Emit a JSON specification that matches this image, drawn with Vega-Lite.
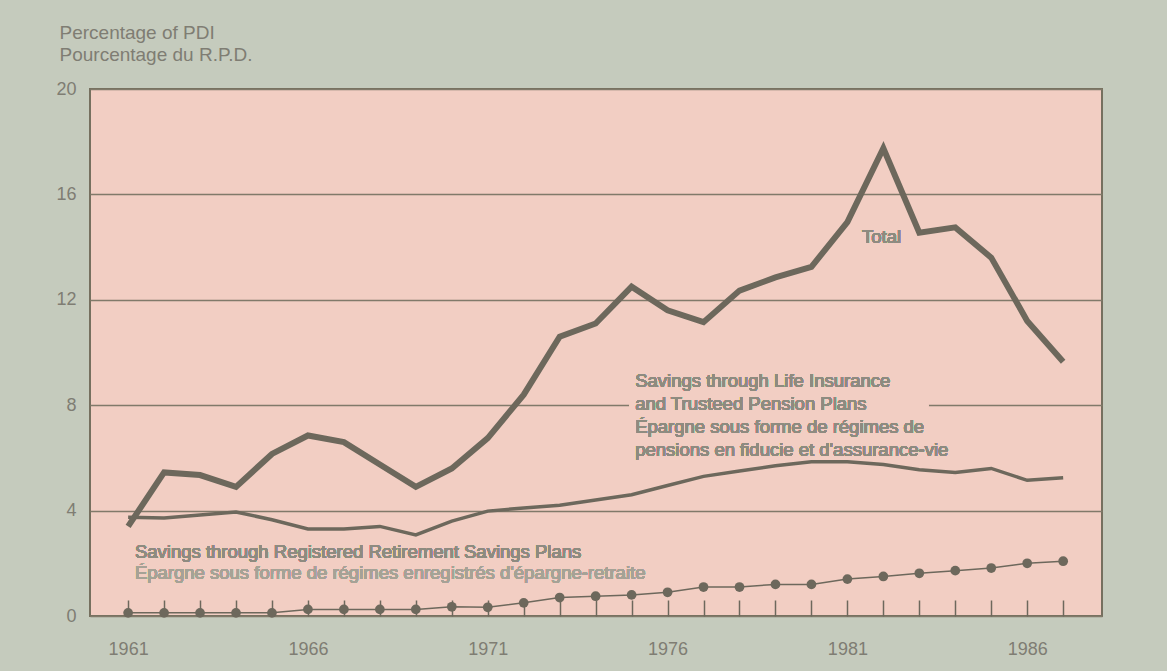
{
  "$schema": "https://vega.github.io/schema/vega-lite/v6.json",
  "width": 1012,
  "height": 527,
  "autosize": {"type": "none"},
  "padding": {"left": 90, "top": 89, "right": 65, "bottom": 55},
  "background": "#c5cbbd",
  "config": {
    "view": {"stroke": "#76705f", "strokeWidth": 2, "fill": "#f2cec3"},
    "font": "Liberation Sans",
    "axis": {"labelFont": "Liberation Sans", "titleFont": "Liberation Sans", "labelColor": "#7f7d73", "titleColor": "#7f7d73", "titleFontWeight": "normal"}
  },
  "data": {
    "values": [
      {"year": 1961, "total": 3.4, "life": 3.75, "rrsp": 0.12},
      {"year": 1962, "total": 5.45, "life": 3.72, "rrsp": 0.12},
      {"year": 1963, "total": 5.35, "life": 3.83, "rrsp": 0.12},
      {"year": 1964, "total": 4.9, "life": 3.95, "rrsp": 0.12},
      {"year": 1965, "total": 6.15, "life": 3.65, "rrsp": 0.12},
      {"year": 1966, "total": 6.85, "life": 3.3, "rrsp": 0.25},
      {"year": 1967, "total": 6.6, "life": 3.3, "rrsp": 0.25},
      {"year": 1968, "total": 5.75, "life": 3.4, "rrsp": 0.25},
      {"year": 1969, "total": 4.9, "life": 3.08, "rrsp": 0.25},
      {"year": 1970, "total": 5.6, "life": 3.6, "rrsp": 0.35},
      {"year": 1971, "total": 6.75, "life": 3.98, "rrsp": 0.33},
      {"year": 1972, "total": 8.4, "life": 4.1, "rrsp": 0.5},
      {"year": 1973, "total": 10.6, "life": 4.2, "rrsp": 0.7},
      {"year": 1974, "total": 11.1, "life": 4.4, "rrsp": 0.75},
      {"year": 1975, "total": 12.5, "life": 4.6, "rrsp": 0.8},
      {"year": 1976, "total": 11.6, "life": 4.95, "rrsp": 0.9},
      {"year": 1977, "total": 11.15, "life": 5.3, "rrsp": 1.1},
      {"year": 1978, "total": 12.35, "life": 5.5, "rrsp": 1.1},
      {"year": 1979, "total": 12.85, "life": 5.7, "rrsp": 1.2},
      {"year": 1980, "total": 13.25, "life": 5.85, "rrsp": 1.2},
      {"year": 1981, "total": 14.95, "life": 5.85, "rrsp": 1.4},
      {"year": 1982, "total": 17.75, "life": 5.75, "rrsp": 1.5},
      {"year": 1983, "total": 14.55, "life": 5.55, "rrsp": 1.62},
      {"year": 1984, "total": 14.75, "life": 5.45, "rrsp": 1.72},
      {"year": 1985, "total": 13.6, "life": 5.6, "rrsp": 1.82},
      {"year": 1986, "total": 11.2, "life": 5.15, "rrsp": 2.0},
      {"year": 1987, "total": 9.65, "life": 5.25, "rrsp": 2.08}
    ]
  },
  "encoding": {
    "x": {
      "field": "year", "type": "quantitative",
      "scale": {"domain": [1959.94, 1988.08], "nice": false, "zero": false},
      "axis": {
        "title": null,
        "values": [1961,1962,1963,1964,1965,1966,1967,1968,1969,1970,1971,1972,1973,1974,1975,1976,1977,1978,1979,1980,1981,1982,1983,1984,1985,1986,1987],
        "labelExpr": "(datum.value - 1961) % 5 == 0 ? datum.value : ''",
        "labelOverlap": false,
        "labelFlush": false,
        "labelFontSize": 18,
        "labelPadding": 40,
        "tickSize": -16,
        "tickColor": "#6d685c",
        "tickWidth": 1.5,
        "domain": false,
        "grid": false
      }
    }
  },
  "layer": [
    {
      "mark": {"type": "rect", "fill": "#f2cec3"},
      "encoding": {
        "x": {"datum": 1974.95, "type": "quantitative"},
        "x2": {"datum": 1983.25},
        "y": {"datum": 7.82, "type": "quantitative"},
        "y2": {"datum": 8.18}
      }
    },
    {
      "mark": {"type": "line", "color": "#6d685c", "strokeWidth": 3.5},
      "encoding": {
        "y": {
          "field": "life", "type": "quantitative",
          "scale": {"domain": [0, 20], "nice": false},
          "axis": {
            "title": ["Percentage of PDI", "Pourcentage du R.P.D."],
            "titleAngle": 0,
            "titleAlign": "left",
            "titleBaseline": "alphabetic",
            "titleX": -31,
            "titleY": -51,
            "titleFontSize": 19,
            "titleLineHeight": 22,
            "values": [0, 4, 8, 12, 16, 20],
            "labelFontSize": 18,
            "labelPadding": 14,
            "ticks": false,
            "domain": false,
            "grid": true,
            "gridColor": "#817a6a",
            "gridWidth": 1.5
          }
        }
      }
    },
    {
      "mark": {"type": "line", "color": "#6d685c", "strokeWidth": 6, "strokeJoin": "miter"},
      "encoding": {"y": {"field": "total", "type": "quantitative"}}
    },
    {
      "mark": {"type": "line", "color": "#6d685c", "strokeWidth": 1.5},
      "encoding": {"y": {"field": "rrsp", "type": "quantitative"}}
    },
    {
      "mark": {"type": "point", "filled": true, "color": "#6d685c", "size": 95, "opacity": 1},
      "encoding": {"y": {"field": "rrsp", "type": "quantitative"}}
    },
    {
      "mark": {"type": "text", "text": "Total", "fontSize": 18.5, "color": "#8e8b80", "align": "center", "baseline": "middle"},
      "encoding": {
        "x": {"datum": 1981.95, "type": "quantitative"},
        "y": {"datum": 14.38, "type": "quantitative"}
      }
    },
    {
      "mark": {"type": "text", "text": ["Savings through Life Insurance", "and  Trusteed Pension Plans", "Épargne sous forme de régimes de", "pensions en fiducie et d'assurance-vie"], "fontSize": 18.5, "lineHeight": 23, "color": "#8e8b80", "align": "left", "baseline": "top"},
      "encoding": {
        "x": {"datum": 1975.1, "type": "quantitative"},
        "y": {"datum": 9.26, "type": "quantitative"}
      }
    },
    {
      "mark": {"type": "text", "text": "Savings through Registered Retirement Savings Plans", "fontSize": 18.5, "color": "#8e8b80", "align": "left", "baseline": "middle"},
      "encoding": {
        "x": {"datum": 1961.19, "type": "quantitative"},
        "y": {"datum": 2.43, "type": "quantitative"}
      }
    },
    {
      "mark": {"type": "text", "text": "Épargne sous forme de régimes enregistrés d'épargne-retraite", "fontSize": 18.5, "color": "#a6a296", "align": "left", "baseline": "middle"},
      "encoding": {
        "x": {"datum": 1961.19, "type": "quantitative"},
        "y": {"datum": 1.65, "type": "quantitative"}
      }
    }
  ]
}
